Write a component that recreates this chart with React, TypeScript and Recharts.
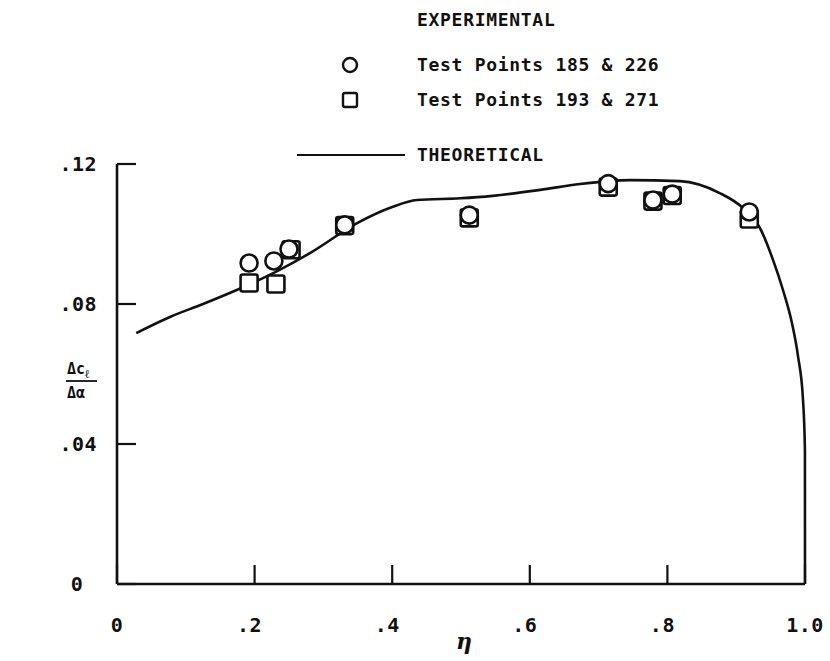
import React from 'react';
import {
  ComposedChart,
  Line,
  Scatter,
  XAxis,
  YAxis,
} from 'recharts';

// theoretical curve
const etaTheory = [0.028, 0.077, 0.125, 0.174, 0.23, 0.281, 0.349, 0.4, 0.436, 0.499, 0.546, 0.615, 0.673, 0.746, 0.818, 0.876, 0.91, 0.9346, 0.9535, 0.968, 0.981, 0.99, 0.9971, 0.9999, 1.0];
const clTheory = [0.0717, 0.0763, 0.08, 0.084, 0.0891, 0.0946, 0.1031, 0.1077, 0.1097, 0.1102, 0.1109, 0.1126, 0.1143, 0.1154, 0.1151, 0.1117, 0.1074, 0.1017, 0.0926, 0.084, 0.0746, 0.0649, 0.0526, 0.0383, 0];

// Test Points 185 & 226 (circles)
const etaCircle = [0.192, 0.228, 0.25, 0.331, 0.512, 0.714, 0.779, 0.807, 0.919];
const clCircle = [0.0917, 0.0923, 0.0957, 0.1026, 0.1054, 0.1144, 0.1097, 0.1114, 0.1063];

// Test Points 193 & 271 (squares)
const etaSquare = [0.192, 0.231, 0.253, 0.331, 0.512, 0.714, 0.779, 0.807, 0.919];
const clSquare = [0.086, 0.0857, 0.0955, 0.1024, 0.1046, 0.1134, 0.1094, 0.111, 0.1043];

const xTicks = [0, 0.2, 0.4, 0.6, 0.8, 1.0];
const xTickLabels = ['0', '.2', '.4', '.6', '.8', '1.0'];
const yTicks = [0, 0.04, 0.08, 0.12];
const yTickLabels = ['0', '.04', '.08', '.12'];

const INK = '#111';
const FONT = '"DejaVu Sans Mono", monospace';

const zip = (xs: number[], ys: number[]) => xs.map((x, i) => ({ x, y: ys[i] }));

const XTick = (props: any) => {
  const { x, y, index } = props;
  const label = xTickLabels[index];
  const dx = label.startsWith('.') ? -5 : 0;
  return (
    <text x={x + dx} y={y} textAnchor="middle" dy="0.71em" fill={INK}
      style={{ fontFamily: FONT, fontWeight: 700, fontSize: 20, letterSpacing: 0.5 }}>
      {label}
    </text>
  );
};

const YTick = (props: any) => {
  const { x, y, index } = props;
  const label = yTickLabels[index];
  const isZero = label === '0';
  return (
    <text x={isZero ? x - 20 : x} y={y} textAnchor={isZero ? 'middle' : 'end'} dy="0.36em" fill={INK}
      style={{ fontFamily: FONT, fontWeight: 700, fontSize: 20, letterSpacing: 0.5 }}>
      {label}
    </text>
  );
};

const CircleMark = (props: any) => (
  <circle cx={props.cx} cy={props.cy} r={8.5} fill="#fff" stroke={INK} strokeWidth={2.6} />
);

const SquareMark = (props: any) => (
  <rect x={props.cx - 8.5} y={props.cy - 8.5} width={17} height={17} rx={2} fill="#fff" stroke={INK} strokeWidth={2.6} />
);

const EtaLabel = (props: any) => {
  const vb = props.viewBox;
  return (
    <text x={vb.x + vb.width / 2 + 3} y={vb.y + 65} textAnchor="middle" fill={INK}
      style={{ fontFamily: '"DejaVu Serif", serif', fontStyle: 'italic', fontWeight: 700, fontSize: 22 }}>
      η
    </text>
  );
};

const RatioLabel = () => (
  <g fill={INK} style={{ fontFamily: FONT, fontWeight: 700, fontSize: 15 }}>
    <text x={67} y={374}>Δc<tspan dy={4} fontSize={12}>ℓ</tspan></text>
    <line x1={66} x2={97} y1={381} y2={381} stroke={INK} strokeWidth={1.8} />
    <text x={67} y={398}>Δα</text>
  </g>
);

const legendText: React.CSSProperties = {
  position: 'absolute',
  left: 417,
  fontFamily: FONT,
  fontWeight: 700,
  fontSize: 18,
  letterSpacing: 0.7,
  color: INK,
  lineHeight: '20px',
  whiteSpace: 'nowrap',
};

export default function App() {
  return (
    <div style={{ position: 'absolute', left: 0, top: 0, width: 830, height: 661, background: '#fff' }}>
      <ComposedChart width={830} height={661} margin={{ top: 164, right: 25, bottom: 47, left: 0 }}>
        <XAxis
          type="number"
          dataKey="x"
          domain={[0, 1]}
          ticks={xTicks}
          interval={0}
          axisLine={{ stroke: INK, strokeWidth: 2.6 }}
          tickLine={{ stroke: INK, strokeWidth: 2.2 }}
          tickSize={-19}
          tickMargin={53}
          tick={<XTick />}
          height={30}
          label={<EtaLabel />}
        />
        <YAxis
          type="number"
          dataKey="y"
          domain={[0, 0.12]}
          ticks={yTicks}
          interval={0}
          width={117}
          axisLine={{ stroke: INK, strokeWidth: 2.6 }}
          tickLine={{ stroke: INK, strokeWidth: 2.2 }}
          tickSize={-19}
          tickMargin={39}
          tick={<YTick />}
          label={<RatioLabel />}
        />
        <Line
          data={zip(etaTheory, clTheory)}
          dataKey="y"
          type="monotone"
          stroke={INK}
          strokeWidth={2.6}
          dot={false}
          activeDot={false}
          isAnimationActive={false}
        />
        <Scatter data={zip(etaSquare, clSquare)} dataKey="y" shape={<SquareMark />} isAnimationActive={false} />
        <Scatter data={zip(etaCircle, clCircle)} dataKey="y" shape={<CircleMark />} isAnimationActive={false} />
      </ComposedChart>

      <div style={{ ...legendText, top: 10 }}>EXPERIMENTAL</div>
      <div style={{ ...legendText, top: 55 }}>Test Points 185 &amp; 226</div>
      <div style={{ ...legendText, top: 90 }}>Test Points 193 &amp; 271</div>
      <div style={{ ...legendText, top: 145 }}>THEORETICAL</div>
      <svg style={{ position: 'absolute', left: 0, top: 0 }} width={430} height={170}>
        <circle cx={350} cy={65} r={7} fill="#fff" stroke={INK} strokeWidth={2.4} />
        <rect x={343} y={93} width={14} height={14} rx={2} fill="#fff" stroke={INK} strokeWidth={2.4} />
        <line x1={297} x2={405} y1={155} y2={155} stroke={INK} strokeWidth={2} />
      </svg>
    </div>
  );
}
